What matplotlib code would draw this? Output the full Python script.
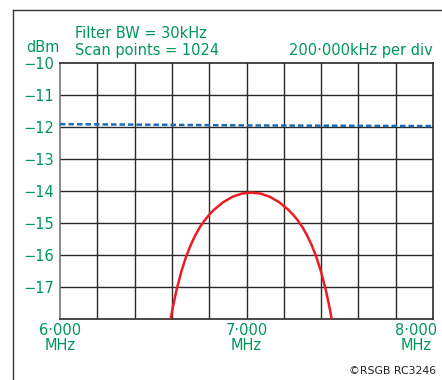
import numpy as np
import matplotlib.pyplot as plt
from matplotlib.lines import Line2D
from matplotlib.transforms import ScaledTranslation

# Spectrum analyser trace values
trace_freq = [6.0, 6.5, 7.0, 7.5, 8.0]
trace_dbm = [-11.91, -11.93, -11.95, -11.96, -11.97]

filt_freq = [6.585, 6.605, 6.625, 6.65, 6.675, 6.70, 6.725, 6.75, 6.775, 6.80, 6.825,
             6.875, 6.925, 6.975, 7.025, 7.075, 7.125, 7.175, 7.225, 7.25, 7.275,
             7.30, 7.325, 7.35, 7.375, 7.40, 7.425, 7.445, 7.465]
filt_dbm = [-18.26, -17.63, -17.09, -16.53, -16.07, -15.70, -15.39, -15.13, -14.92, -14.74, -14.59,
            -14.35, -14.18, -14.08, -14.05, -14.08, -14.18, -14.35, -14.59, -14.74, -14.92,
            -15.13, -15.39, -15.70, -16.07, -16.53, -17.09, -17.63, -18.26]

x_ticks = [6.0, 7.0, 8.0]
x_labels = ['6·000\nMHz', '7·000\nMHz', '8·000\nMHz']
y_ticks = [-10, -11, -12, -13, -14, -15, -16, -17]
y_labels = ['−10', '−11', '−12', '−13', '−14', '−15', '−16', '−17']

green = '#00965a'
plt.rcParams['font.family'] = ['DejaVu Sans']

fig = plt.figure(figsize=(4.42, 3.80), dpi=100)
ax = fig.add_axes([60 / 442, 1 - 319 / 380, 373 / 442, 256 / 380])

# grid: 10 x divisions, 8 y divisions
for xv in np.arange(6.2, 8.0, 0.2):
    ax.axvline(xv, color='#2a2a2a', lw=1.0, zorder=1)
for yv in range(-17, -10):
    ax.axhline(yv, color='#2a2a2a', lw=1.0, zorder=1)

ax.plot(trace_freq, trace_dbm, color='#1c6cb4', lw=1.8, ls=(0, (2.2, 1.2)), zorder=3)
ax.plot(filt_freq, filt_dbm, color='#ec1c24', lw=1.8, zorder=3, clip_on=True,
        solid_joinstyle='round')

ax.set_xlim(6.0, 8.0)
ax.set_ylim(-18, -10)
for s in ax.spines.values():
    s.set_color('#2a2a2a')
    s.set_linewidth(1.2)
ax.spines['left'].set_color('#777777')

ax.set_xticks(x_ticks)
ax.set_xticklabels(x_labels, color=green, fontsize=10.5, linespacing=1.0)
ax.set_yticks(y_ticks)
ax.set_yticklabels(y_labels, color=green, fontsize=10.5)
ax.tick_params(length=0, pad=4)
ax.tick_params(axis='x', pad=3)
last = ax.get_xticklabels()[-1]
last.set_horizontalalignment('right')
last.set_multialignment('center')
last.set_transform(last.get_transform() + ScaledTranslation(4 / 100, 0, fig.dpi_scale_trans))

fig.text(75 / 442, 1 - 33 / 380, 'Filter BW = 30kHz', color=green, fontsize=10.5, va='center')
fig.text(75 / 442, 1 - 50 / 380, 'Scan points = 1024', color=green, fontsize=10.5, va='center')
fig.text(60 / 442, 1 - 47 / 380, 'dBm', color=green, fontsize=10.5, va='center', ha='right')
fig.text(433 / 442, 1 - 50 / 380, '200·000kHz per div', color=green, fontsize=10.5,
         va='center', ha='right')
fig.text(436 / 442, 1 - 371 / 380, '©RSGB RC3246', color='#222222', fontsize=7.8,
         va='center', ha='right')

# outer frame (top and left edges visible)
fig.add_artist(Line2D([13 / 442, 1], [1 - 10 / 380, 1 - 10 / 380], color='#333333', lw=1.0))
fig.add_artist(Line2D([13 / 442, 13 / 442], [0, 1 - 10 / 380], color='#333333', lw=1.0))

fig.savefig('out.png', dpi=100)
